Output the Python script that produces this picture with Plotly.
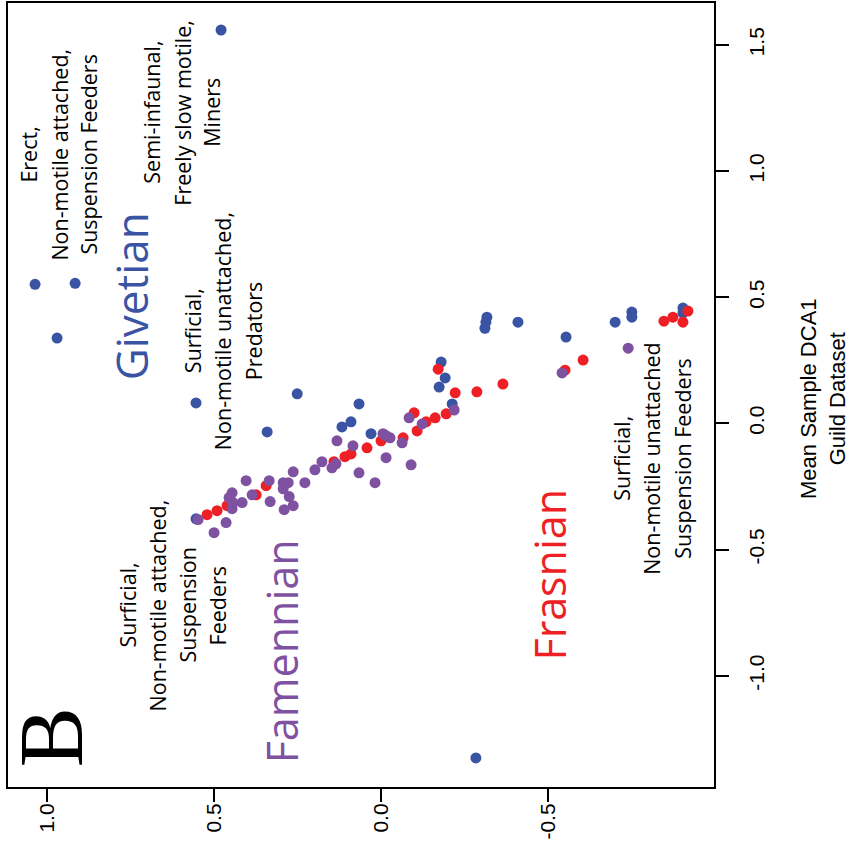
import plotly.graph_objects as go

# Sample scores: horizontal = second ordination score, vertical = mean sample DCA1 (guild dataset)
giv_score = [0.479, 1.036, 0.916, 0.970, 0.554, 0.251, 0.341, -0.284, 0.066, 0.090,
             0.117, 0.030, -0.180, -0.192, -0.174, -0.213, -0.317, -0.314, -0.311, -0.410,
             -0.554, -0.701, -0.751, -0.751, -0.904, -0.904, 0.554]
giv_dca1 = [1.559, 0.551, 0.555, 0.338, 0.081, 0.117, -0.034, -1.326, 0.077, 0.006,
            -0.014, -0.041, 0.243, 0.180, 0.144, 0.077, 0.421, 0.401, 0.377, 0.401,
            0.342, 0.401, 0.441, 0.421, 0.457, 0.437, -0.378]

fra_score = [-0.171, -0.222, -0.287, -0.365, -0.551, -0.605, -0.847, -0.874, -0.904, -0.919,
             -0.195, -0.162, -0.135, -0.108, -0.099, -0.066, 0.000, 0.042, 0.090, 0.108,
             0.141, 0.344, 0.374, 0.452, 0.461, 0.491, 0.521]
fra_dca1 = [0.215, 0.121, 0.125, 0.156, 0.211, 0.251, 0.405, 0.421, 0.401, 0.445,
            0.038, 0.022, 0.006, -0.030, 0.042, -0.057, -0.069, -0.097, -0.121, -0.132,
            -0.152, -0.247, -0.283, -0.306, -0.326, -0.346, -0.362]

fam_score = [0.548, 0.500, 0.464, 0.455, 0.446, 0.443, 0.446, 0.416, 0.404, 0.386,
             0.332, 0.335, 0.293, 0.278, 0.293, 0.275, 0.290, 0.263, 0.263, 0.228,
             0.198, 0.177, 0.147, 0.135, 0.132, 0.084, 0.066, 0.018, -0.006, -0.015,
             -0.027, -0.015, -0.063, -0.090, -0.084, -0.123, -0.219, -0.542, -0.740]
fam_dca1 = [-0.381, -0.433, -0.393, -0.294, -0.275, -0.314, -0.338, -0.314, -0.227, -0.283,
            -0.310, -0.227, -0.235, -0.235, -0.259, -0.290, -0.342, -0.326, -0.192, -0.235,
            -0.184, -0.152, -0.176, -0.160, -0.069, -0.089, -0.196, -0.235, -0.041, -0.049,
            -0.057, -0.136, -0.077, -0.164, 0.022, -0.002, 0.053, 0.200, 0.298]

x_ticks = [1.0, 0.5, 0.0, -0.5]
x_ticktext = ["1.0", "0.5", "0.0", "-0.5"]
y_ticks = [-1.0, -0.5, 0.0, 0.5, 1.0, 1.5]
y_ticktext = ["-1.0", "-0.5", "0.0", "0.5", "1.0", "1.5"]

BLUE = "#3a54a4"
RED = "#ee1f25"
PURPLE = "#7f52a1"

X_RANGE = [1.117, -0.997]
Y_RANGE = [-1.441, 1.666]

fig = go.Figure()
for xs, ys, col, nm in [(giv_score, giv_dca1, BLUE, "Givetian"),
                        (fra_score, fra_dca1, RED, "Frasnian"),
                        (fam_score, fam_dca1, PURPLE, "Famennian")]:
    fig.add_trace(go.Scatter(x=xs, y=ys, mode="markers", name=nm, showlegend=False,
                             marker=dict(size=11, color=col, line=dict(width=0))))

LABEL_FONT = "Open Sans"

def to_data(px, py):
    """Convert a position inside the plotting frame to axis units."""
    fx = (px - 8) / 706.0
    fy = (py - 1) / 786.0
    x = X_RANGE[0] + fx * (X_RANGE[1] - X_RANGE[0])
    y = Y_RANGE[1] - fy * (Y_RANGE[1] - Y_RANGE[0])
    return x, y

def block(lines, xs, yc, size=21.5, color="black"):
    for ln, px in zip(lines, xs):
        x, y = to_data(px, yc)
        fig.add_annotation(x=x, y=y, xref="x", yref="y", text=ln, showarrow=False,
                           textangle=-90, xanchor="center", yanchor="middle",
                           font=dict(family=LABEL_FONT, size=size, color=color))

# guild labels
block(["Erect,", "Non-motile attached,", "Suspension Feeders"], [29, 60, 89], 153)
block(["Semi-infaunal,", "Freely slow motile,", "Miners"], [152, 183, 212], 111)
block(["Surficial,", "Non-motile unattached,", "Predators"], [192, 222, 253], 330)
block(["Surficial,", "Non-motile attached,", "Suspension", "Feeders"], [127, 157, 187, 217], 605)
block(["Surficial,", "Non-motile unattached", "Suspension Feeders"], [622, 652, 683], 458)

# stage labels
block(["Givetian"], [131], 295, size=44, color=BLUE)
block(["Famennian"], [281], 651, size=43, color=PURPLE)
block(["Frasnian"], [550], 574, size=43, color=RED)

# panel letter
bx, by = to_data(51, 737)
fig.add_annotation(x=bx, y=by, xref="x", yref="y", text="B", showarrow=False,
                   textangle=-90, xanchor="center", yanchor="middle",
                   font=dict(family="Liberation Serif", size=90, color="black"))

# axis title for the vertical (DCA1) axis
fig.add_annotation(x=(823 - 8) / 706.0, y=1 - (397 - 1) / 786.0, xref="paper", yref="paper",
                   text="Mean Sample DCA1<br>Guild Dataset", showarrow=False,
                   textangle=-90, xanchor="center", yanchor="middle",
                   font=dict(family="Liberation Sans", size=22, color="black"))

axis_common = dict(showgrid=False, zeroline=False, showline=True, linewidth=2,
                   linecolor="black", mirror=True, ticks="outside", ticklen=13,
                   tickwidth=2, tickcolor="black", tickangle=-90,
                   tickfont=dict(family="Liberation Sans", size=21, color="black"))

fig.update_layout(
    width=853, height=853,
    margin=dict(l=8, r=139, t=1, b=66),
    paper_bgcolor="white", plot_bgcolor="white",
    xaxis=dict(range=X_RANGE, tickvals=x_ticks, ticktext=x_ticktext,
               ticklabelstandoff=-7, **axis_common),
    yaxis=dict(range=Y_RANGE, tickvals=y_ticks, ticktext=y_ticktext, side="right",
               ticklabelstandoff=10, **axis_common),
)

fig.write_html("out.html")
